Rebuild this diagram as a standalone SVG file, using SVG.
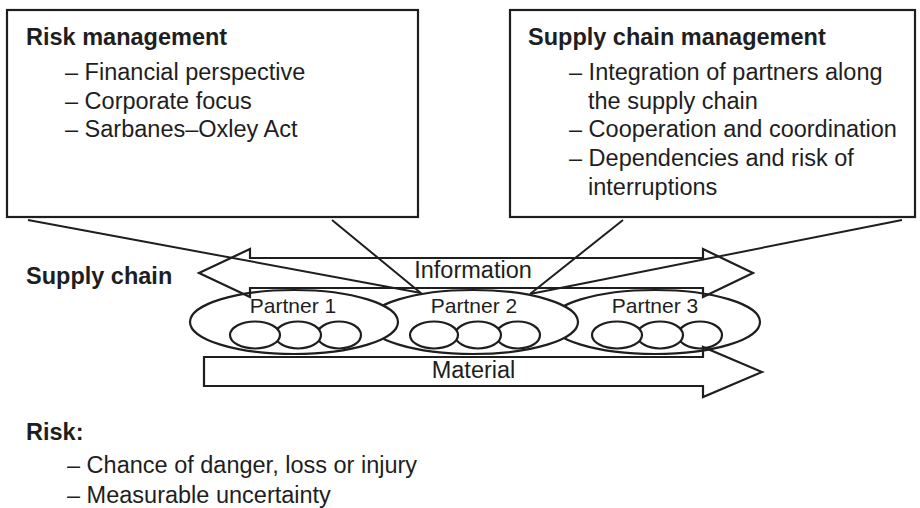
<svg xmlns="http://www.w3.org/2000/svg" width="920" height="508" viewBox="0 0 920 508">
  <style>
    text { font-family: "Liberation Sans", Arial, Helvetica, sans-serif; fill: #1e1e1e; }
    .h { font-size: 23.5px; font-weight: bold; }
    .t { font-size: 23.5px; }
    .p { font-size: 21px; }
    .box { fill: #ffffff; stroke: #1e1e1e; stroke-width: 2.2; }
    .ell { fill: #ffffff; stroke: #1e1e1e; stroke-width: 2.2; }
    .arrow { fill: none; stroke: #1e1e1e; stroke-width: 2.2; stroke-linejoin: miter; }
    .line { fill: none; stroke: #1e1e1e; stroke-width: 2; }
  </style>

  <!-- Risk management box -->
  <g id="risk-management">
    <rect class="box" x="7" y="10" width="411" height="207"/>
    <text class="h" x="26" y="45">Risk management</text>
    <text class="t" x="65" y="80">– Financial perspective</text>
    <text class="t" x="65" y="108.5">– Corporate focus</text>
    <text class="t" x="65" y="137">– Sarbanes–Oxley Act</text>
  </g>

  <!-- Supply chain management box -->
  <g id="supply-chain-management">
    <rect class="box" x="510" y="10" width="405" height="207"/>
    <text class="h" x="528" y="45">Supply chain management</text>
    <text class="t" x="569" y="80">– Integration of partners along</text>
    <text class="t" x="588" y="108.5">the supply chain</text>
    <text class="t" x="569" y="137">– Cooperation and coordination</text>
    <text class="t" x="569" y="166">– Dependencies and risk of</text>
    <text class="t" x="588" y="195">interruptions</text>
  </g>

  <!-- Supply chain label -->
  <g id="supply-chain-label">
    <text class="h" x="26" y="284">Supply chain</text>
  </g>

  <!-- Partners (drawn right to left so each overlaps the next) -->
  <g id="partner-3">
    <ellipse class="ell" cx="655" cy="322" rx="105" ry="32"/>
    <ellipse class="ell" cx="700" cy="335" rx="22" ry="13.5"/>
    <ellipse class="ell" cx="660" cy="335" rx="23" ry="13.5"/>
    <ellipse class="ell" cx="617" cy="335" rx="25" ry="13.5"/>
    <text class="p" x="655" y="313" text-anchor="middle">Partner 3</text>
  </g>
  <g id="partner-2">
    <ellipse class="ell" cx="473" cy="322" rx="105" ry="32"/>
    <ellipse class="ell" cx="518" cy="335" rx="22" ry="13.5"/>
    <ellipse class="ell" cx="478" cy="335" rx="23" ry="13.5"/>
    <ellipse class="ell" cx="434" cy="335" rx="24" ry="13.5"/>
    <text class="p" x="474" y="313" text-anchor="middle">Partner 2</text>
  </g>
  <g id="partner-1">
    <ellipse class="ell" cx="294" cy="322" rx="104" ry="32"/>
    <ellipse class="ell" cx="339" cy="335" rx="22" ry="13.5"/>
    <ellipse class="ell" cx="298" cy="335" rx="23" ry="13.5"/>
    <ellipse class="ell" cx="255" cy="335" rx="25" ry="13.5"/>
    <text class="p" x="293" y="313" text-anchor="middle">Partner 1</text>
  </g>

  <!-- Flows -->
  <g id="information-flow">
    <path class="arrow" d="M199,273 L250,249 L250,258 L703,258 L703,249 L753,273 L703,297 L703,288 L250,288 L250,297 Z"/>
    <text class="t" x="473" y="278" text-anchor="middle">Information</text>
  </g>
  <g id="material-flow">
    <path class="arrow" d="M204,357 L703,357 L703,347 L762,372 L703,397 L703,386 L204,386 Z"/>
    <text class="t" x="473.5" y="378" text-anchor="middle">Material</text>
  </g>

  <!-- Callout lines from the boxes down to the chain -->
  <g id="connectors">
    <line class="line" x1="28" y1="220" x2="421" y2="293"/>
    <line class="line" x1="332" y1="220" x2="422" y2="294"/>
    <line class="line" x1="623" y1="220" x2="530" y2="294"/>
    <line class="line" x1="902" y1="220" x2="530" y2="294"/>
  </g>

  <!-- Risk definition -->
  <g id="risk-definition">
    <text class="h" x="26" y="440">Risk:</text>
    <text class="t" x="67" y="473">– Chance of danger, loss or injury</text>
    <text class="t" x="67" y="503">– Measurable uncertainty</text>
  </g>
</svg>
